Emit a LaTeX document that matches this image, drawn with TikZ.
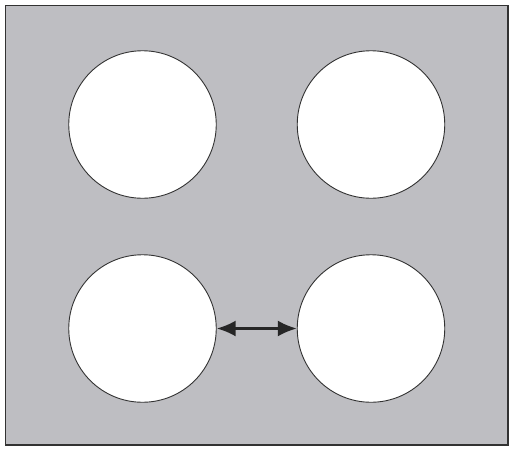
\documentclass[tikz,border=0pt]{standalone}
\usetikzlibrary{arrows.meta}
\definecolor{bggray}{RGB}{190,190,194}
\definecolor{edgegray}{RGB}{50,50,50}
\begin{document}
\begin{tikzpicture}[x=1pt,y=-1pt,
  hole/.style={circle,draw=edgegray,line width=0.9pt,fill=white,minimum size=147.5pt,inner sep=0pt},
  gap/.style={{Latex[length=19pt,width=16pt]}-{Latex[length=19pt,width=16pt]},line width=2.4pt,draw=black!85}]
\useasboundingbox (0,0) rectangle (512,448);
\draw[fill=bggray,draw=edgegray,line width=1.6pt] (5.5,5.5) rectangle (508,445);
\node[hole] (tl) at (142.5,124.5) {};
\node[hole] (tr) at (371,124.5) {};
\node[hole] (bl) at (142.5,328.5) {};
\node[hole] (br) at (371,328.5) {};
\draw[gap] (bl.east) -- (br.west);
\end{tikzpicture}
\end{document}
